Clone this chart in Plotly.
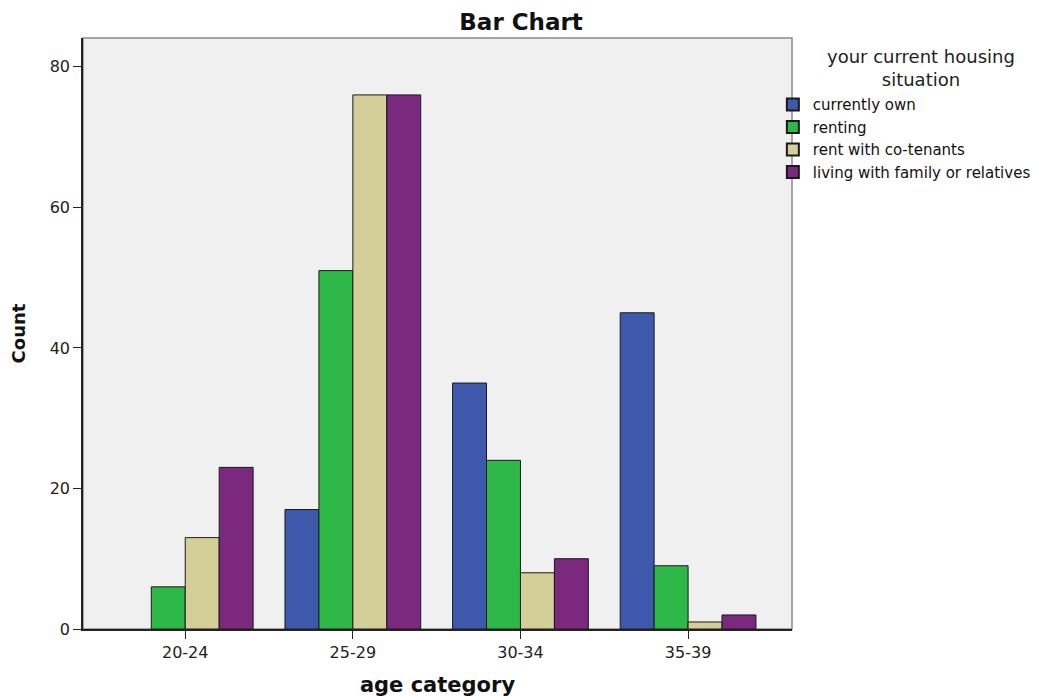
import plotly.graph_objects as go

categories = ["20-24", "25-29", "30-34", "35-39"]
series_names = ["currently own", "renting", "rent with co-tenants", "living with family or relatives"]
currently_own = [None, 17, 35, 45]
renting = [6, 51, 24, 9]
rent_cotenants = [13, 76, 8, 1]
living_family = [23, 76, 10, 2]
colors = ["#3e58ac", "#2eb848", "#d4cf98", "#7b287f"]
legend_title = "your current housing<br>situation"

values = [currently_own, renting, rent_cotenants, living_family]

fig = go.Figure()
for name, vals, col in zip(series_names, values, colors):
    fig.add_trace(go.Bar(
        x=categories, y=vals, name=name,
        marker=dict(color=col, line=dict(color="#1a1a1a", width=1)),
    ))

fig.update_layout(
    width=1045, height=689,
    margin=dict(l=75, r=261, t=30, b=68, autoexpand=False),
    paper_bgcolor="white",
    plot_bgcolor="#f0f0f0",
    barmode="group",
    bargap=0.19,
    bargroupgap=0,
    font=dict(family="DejaVu Sans, sans-serif", size=16, color="#222"),
    title=dict(text="<b>Bar Chart</b>", x=0.491, xref="container", xanchor="center",
               y=0.980, yanchor="middle", font=dict(size=23, color="#111")),
    showlegend=True,
    legend=dict(
        x=0.973, xanchor="left", y=0.915, yanchor="top",
        font=dict(size=15, color="#111"),
        tracegroupgap=0, itemsizing="constant",
        bgcolor="rgba(0,0,0,0)",
    ),
    xaxis=dict(
        type="category", range=[-0.61, 3.62], automargin=False,
        showline=True, linecolor="#222", linewidth=1.5,
        ticks="outside", ticklen=8, tickcolor="#222",
        showgrid=False, zeroline=False,
        title=dict(text="<b>age category</b>", font=dict(size=21, color="#111"), standoff=18),
        tickfont=dict(size=16, color="#222"),
    ),
    yaxis=dict(
        range=[0, 84.1], automargin=False,
        tickvals=[0, 20, 40, 60, 80],
        showline=True, linecolor="#222", linewidth=1.5,
        ticks="outside", ticklen=8, tickcolor="#222",
        showgrid=False, zeroline=False,
        title=dict(text="<b>Count</b>", font=dict(size=18, color="#111"), standoff=22),
        tickfont=dict(size=16, color="#222"),
    ),
)

fig.add_annotation(text=legend_title, xref="paper", yref="paper", x=1.182, y=0.950,
                   xanchor="center", yanchor="middle", align="center", showarrow=False,
                   font=dict(size=18, color="#222"))

fig.add_shape(type="rect", xref="paper", yref="paper", x0=0, y0=0, x1=1, y1=1,
              line=dict(color="#8a8a8a", width=1.5), layer="below")

fig.write_html("out.html")
